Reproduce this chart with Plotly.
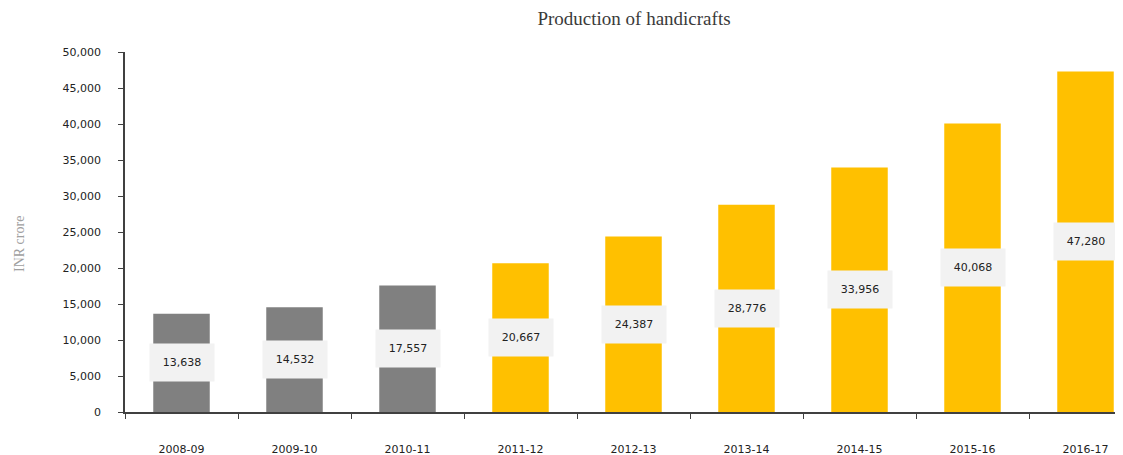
import plotly.graph_objects as go

categories = ["2008-09", "2009-10", "2010-11", "2011-12", "2012-13",
              "2013-14", "2014-15", "2015-16", "2016-17"]
values = [13638, 14532, 17557, 20667, 24387, 28776, 33956, 40068, 47280]
colors = ["#808080"] * 3 + ["#FFC000"] * 6
ytick_vals = list(range(0, 50001, 5000))
ytick_text = [f"{v:,}" for v in ytick_vals]

fig = go.Figure()
fig.add_trace(go.Bar(
    x=categories, y=values, marker=dict(color=colors, line=dict(width=0)),
    width=0.5, hoverinfo="skip",
))

for c, v in zip(categories, values):
    fig.add_annotation(
        x=c, y=v / 2, text=f"{v:,}", showarrow=False,
        bgcolor="#F2F2F2", width=64, height=37, borderpad=0,
        font=dict(family="DejaVu Sans", size=11, color="#222222"),
        xanchor="center", yanchor="middle",
    )

# y-axis title as rotated annotation
fig.add_annotation(
    xref="paper", yref="paper", x=-105 / 998, y=0.4667,
    text="INR crore", textangle=-90, showarrow=False,
    xanchor="center", yanchor="middle",
    font=dict(family="Liberation Serif", size=14, color="#A0A0A0"),
)

fig.update_layout(
    width=1123, height=455,
    margin=dict(l=117, r=8, t=44, b=51),
    paper_bgcolor="white", plot_bgcolor="white",
    showlegend=False,
    title=dict(text="Production of handicrafts", x=626 / 1123, xanchor="center",
               y=1 - 10 / 455, yanchor="middle",
               font=dict(family="Liberation Serif", size=19, color="#3A3A3A")),
)

fig.update_xaxes(
    type="category", range=[-0.5, -0.5 + 998 / 113],
    showline=True, linecolor="#404040", linewidth=1.5,
    ticks="outside", tickson="boundaries", ticklen=5, tickcolor="#404040",
    tickfont=dict(family="DejaVu Sans", size=11, color="#222222"),
    ticklabelstandoff=26, showgrid=False, zeroline=False,
)
fig.update_yaxes(
    range=[0, 50000], tickvals=ytick_vals, ticktext=ytick_text,
    showline=True, linecolor="#404040", linewidth=1.5,
    ticks="outside", ticklen=5, tickcolor="#404040",
    tickfont=dict(family="DejaVu Sans", size=11, color="#222222"),
    ticklabelstandoff=15, showgrid=False, zeroline=False,
)

fig.write_html("out.html")
